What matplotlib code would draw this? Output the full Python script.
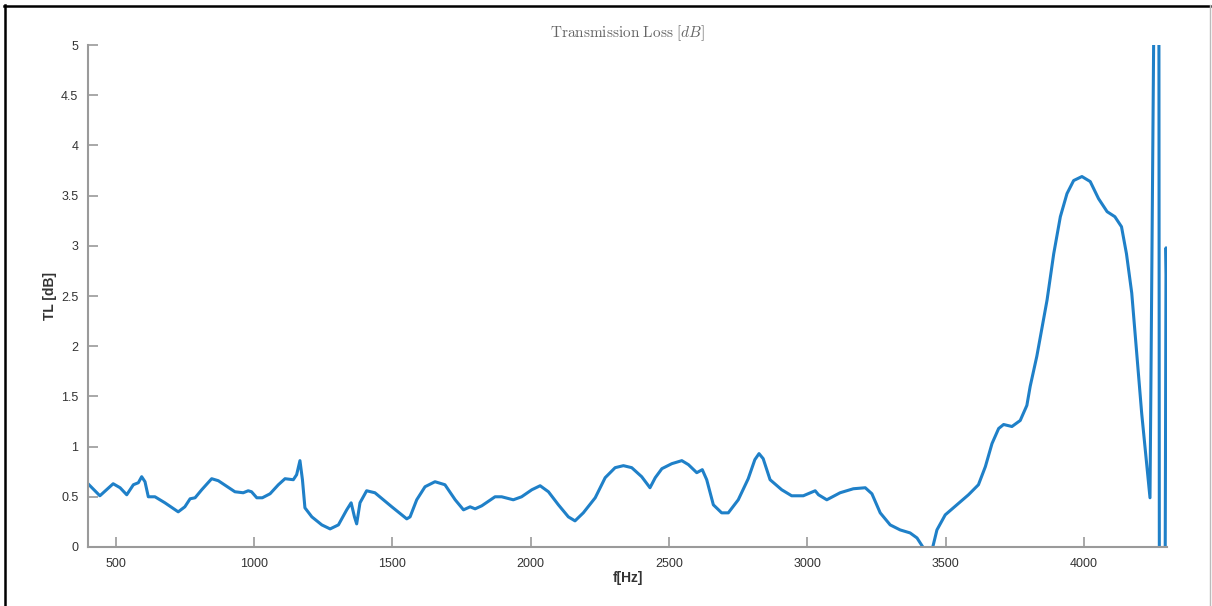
import numpy as np
import matplotlib.pyplot as plt
from matplotlib.lines import Line2D

# transmission loss curve
freq = [400, 443, 491, 516, 540, 564, 582, 594, 606, 618,
        642, 678, 726, 750, 769, 787, 811, 847, 871, 931,
        961, 979, 991, 1010, 1030, 1058, 1088, 1112, 1142, 1154,
        1166, 1175, 1184, 1209, 1245, 1275, 1305, 1335, 1351, 1363,
        1371, 1383, 1407, 1437, 1498, 1552, 1564, 1588, 1618, 1654,
        1690, 1727, 1757, 1781, 1799, 1823, 1871, 1895, 1937, 1967,
        2004, 2034, 2064, 2100, 2136, 2160, 2190, 2233, 2269, 2305,
        2335, 2365, 2401, 2431, 2450, 2474, 2510, 2546, 2570, 2600,
        2620, 2636, 2660, 2690, 2714, 2750, 2786, 2810, 2825, 2840,
        2865, 2907, 2943, 2985, 3028, 3040, 3070, 3118, 3166, 3209,
        3233, 3263, 3299, 3335, 3371, 3396, 3417, 3435, 3453, 3468,
        3498, 3540, 3582, 3618, 3643, 3667, 3691, 3709, 3739, 3769,
        3793, 3805, 3829, 3866, 3890, 3914, 3938, 3962, 3992, 4022,
        4052, 4083, 4111, 4135, 4153, 4172, 4184, 4208, 4238, 4254,
        4270, 4272, 4292, 4296, 4300]

tl = [0.63, 0.51, 0.63, 0.59, 0.52, 0.62, 0.64, 0.70, 0.65, 0.50,
      0.50, 0.44, 0.35, 0.40, 0.48, 0.49, 0.57, 0.68, 0.66, 0.55,
      0.54, 0.56, 0.55, 0.49, 0.49, 0.53, 0.62, 0.68, 0.67, 0.72,
      0.86, 0.67, 0.39, 0.30, 0.22, 0.18, 0.22, 0.37, 0.44, 0.30,
      0.23, 0.44, 0.56, 0.54, 0.40, 0.28, 0.30, 0.47, 0.60, 0.65,
      0.62, 0.47, 0.37, 0.40, 0.38, 0.41, 0.50, 0.50, 0.47, 0.50,
      0.57, 0.61, 0.55, 0.42, 0.30, 0.26, 0.34, 0.49, 0.69, 0.79,
      0.81, 0.79, 0.70, 0.59, 0.69, 0.78, 0.83, 0.86, 0.82, 0.74,
      0.77, 0.67, 0.42, 0.34, 0.34, 0.47, 0.68, 0.87, 0.93, 0.88,
      0.67, 0.57, 0.51, 0.51, 0.56, 0.52, 0.47, 0.54, 0.58, 0.59,
      0.53, 0.34, 0.22, 0.17, 0.14, 0.09, 0.00, -0.08, 0.00, 0.17,
      0.32, 0.42, 0.52, 0.62, 0.80, 1.03, 1.18, 1.22, 1.20, 1.26,
      1.41, 1.60, 1.90, 2.46, 2.92, 3.29, 3.52, 3.65, 3.69, 3.64,
      3.47, 3.34, 3.29, 3.19, 2.92, 2.53, 2.13, 1.33, 0.49, 6.0,
      6.0, -1.0, -1.0, 2.98, 2.36]

xticks = [500, 1000, 1500, 2000, 2500, 3000, 3500, 4000]
yticks = [0, 0.5, 1, 1.5, 2, 2.5, 3, 3.5, 4, 4.5, 5]
ytick_labels = ["0", "0.5", "1", "1.5", "2", "2.5", "3", "3.5", "4", "4.5", "5"]

plt.rcParams['font.family'] = ['Liberation Sans', 'DejaVu Sans']
plt.rcParams['mathtext.fontset'] = 'cm'

fig = plt.figure(figsize=(12.12, 6.06), dpi=100)
ax = fig.add_axes([0.0726, 0.0974, 0.8904, 0.8283])

ax.plot(freq, tl, color='#1f80c8', lw=2.2)
ax.set_xlim(400, 4300)
ax.set_ylim(0, 5)

ax.set_xticks(xticks)
ax.set_yticks(yticks)
ax.set_yticklabels(ytick_labels)

for s in ['top', 'right']:
    ax.spines[s].set_visible(False)
for s in ['left', 'bottom']:
    ax.spines[s].set_color('#9a9a9a')
    ax.spines[s].set_linewidth(1.5)
ax.tick_params(direction='in', length=7, width=1.2, color='#9a9a9a',
               labelsize=9, labelcolor='#333333')
ax.tick_params(axis='y', pad=7)
ax.tick_params(axis='x', pad=8)

ax.set_title(r'$\mathrm{Transmission\ Loss}\ [dB]$', fontsize=11,
             color='#666666', pad=6)
ax.set_xlabel('f[Hz]', fontsize=10, fontweight='bold', color='#333333', labelpad=1)
ax.set_ylabel('TL [dB]', fontsize=10, fontweight='bold', color='#333333', labelpad=3)

# frame around the screenshot
fig.add_artist(Line2D([4.5 / 1212, 4.5 / 1212], [0, 1 - 5 / 606],
                      transform=fig.transFigure, color='black', lw=1.8))
fig.add_artist(Line2D([4 / 1212, 1210 / 1212], [1 - 5.5 / 606, 1 - 5.5 / 606],
                      transform=fig.transFigure, color='black', lw=1.8))
fig.add_artist(Line2D([1209.5 / 1212, 1209.5 / 1212], [0, 1 - 5 / 606],
                      transform=fig.transFigure, color='#bbbbbb', lw=1.0))

fig.savefig('out.png', dpi=100)
